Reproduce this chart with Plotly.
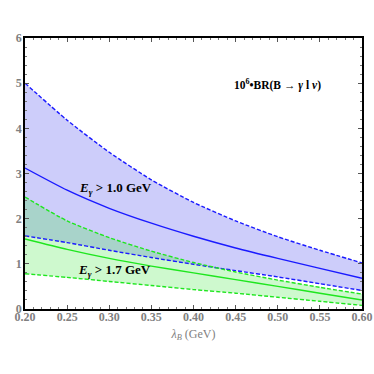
import plotly.graph_objects as go

lam = [0.20, 0.25, 0.30, 0.35, 0.40, 0.45, 0.50, 0.55, 0.60]

# E_gamma > 1.0 GeV
blue_hi = [5.00, 4.18, 3.47, 2.86, 2.36, 1.95, 1.60, 1.30, 1.02]
blue_mid = [3.12, 2.63, 2.23, 1.90, 1.61, 1.35, 1.12, 0.90, 0.68]
blue_lo = [1.62, 1.47, 1.30, 1.14, 0.99, 0.85, 0.71, 0.56, 0.41]

# E_gamma > 1.7 GeV
green_hi = [2.48, 1.95, 1.58, 1.28, 1.03, 0.82, 0.64, 0.48, 0.33]
green_mid = [1.55, 1.32, 1.12, 0.95, 0.80, 0.65, 0.50, 0.35, 0.20]
green_lo = [0.78, 0.70, 0.61, 0.52, 0.43, 0.35, 0.26, 0.17, 0.08]

xticks = [0.20, 0.25, 0.30, 0.35, 0.40, 0.45, 0.50, 0.55, 0.60]
yticks = [0, 1, 2, 3, 4, 5, 6]

blue = "#1a1aff"
green = "#1ee61e"
sp = dict(shape="spline", smoothing=0.6)

fig = go.Figure()
# bands
fig.add_trace(go.Scatter(x=lam, y=blue_lo, mode="lines", line=dict(width=0, **sp), showlegend=False))
fig.add_trace(go.Scatter(x=lam, y=blue_hi, mode="lines", line=dict(width=0, **sp), fill="tonexty",
                         fillcolor="rgba(90,90,240,0.3)", showlegend=False))
fig.add_trace(go.Scatter(x=lam, y=green_lo, mode="lines", line=dict(width=0, **sp), showlegend=False))
fig.add_trace(go.Scatter(x=lam, y=green_hi, mode="lines", line=dict(width=0, **sp), fill="tonexty",
                         fillcolor="rgba(60,230,60,0.25)", showlegend=False))
# lines
for ys, c, d in [(blue_hi, blue, "4px,2px"), (blue_mid, blue, "solid"), (blue_lo, blue, "4px,2px"),
                 (green_hi, green, "4px,2px"), (green_mid, green, "solid"), (green_lo, green, "4px,2px")]:
    fig.add_trace(go.Scatter(x=lam, y=ys, mode="lines", line=dict(color=c, width=1.4, dash=d, **sp),
                             showlegend=False))

tickfont = dict(family="Liberation Serif", size=12, color="#808080")
ax = dict(showline=True, linecolor="black", linewidth=1.5, mirror="ticks", ticks="inside",
          ticklen=4, tickcolor="#555", showgrid=False, zeroline=False, tickfont=tickfont,
          automargin=False)

fig.update_xaxes(range=[0.2, 0.6], tickvals=xticks, ticktext=["<b>%.2f</b>" % v for v in xticks],
                 minor=dict(ticks="inside", ticklen=2, dtick=0.01, tickcolor="#777"), ticklabelstandoff=-4,
                 title=dict(text="<i>λ<sub>B</sub></i> (GeV)", font=dict(family="Liberation Serif", size=12,
                                                                         color="#808080"), standoff=6),
                 **ax)
fig.update_yaxes(range=[0, 6], tickvals=yticks, ticktext=["<b>%d</b>" % v for v in yticks],
                 minor=dict(ticks="inside", ticklen=2, dtick=0.2, tickcolor="#777"), ticklabelstandoff=-1,
                 **ax)

fig.add_annotation(x=0.307, y=2.66, text="<b><i>E<sub>γ</sub></i> > 1.0 GeV</b>", showarrow=False,
                   font=dict(family="Liberation Serif", size=13, color="black"))
fig.add_annotation(x=0.306, y=0.86, text="<b><i>E<sub>γ</sub></i> > 1.7 GeV</b>", showarrow=False,
                   font=dict(family="Liberation Serif", size=13, color="black"))
fig.add_annotation(x=0.50, y=4.98, text="<b>10<sup>6</sup>•BR(B → <i>γ</i> l <i>ν</i>)</b>",
                   showarrow=False, font=dict(family="Liberation Serif", size=11.5, color="black"))

fig.update_layout(width=374, height=374, margin=dict(l=25, r=12, t=38, b=65),
                  plot_bgcolor="white", paper_bgcolor="white")
fig.write_html("out.html", config={"displayModeBar": False},
               post_script="document.body.style.margin='0';")
